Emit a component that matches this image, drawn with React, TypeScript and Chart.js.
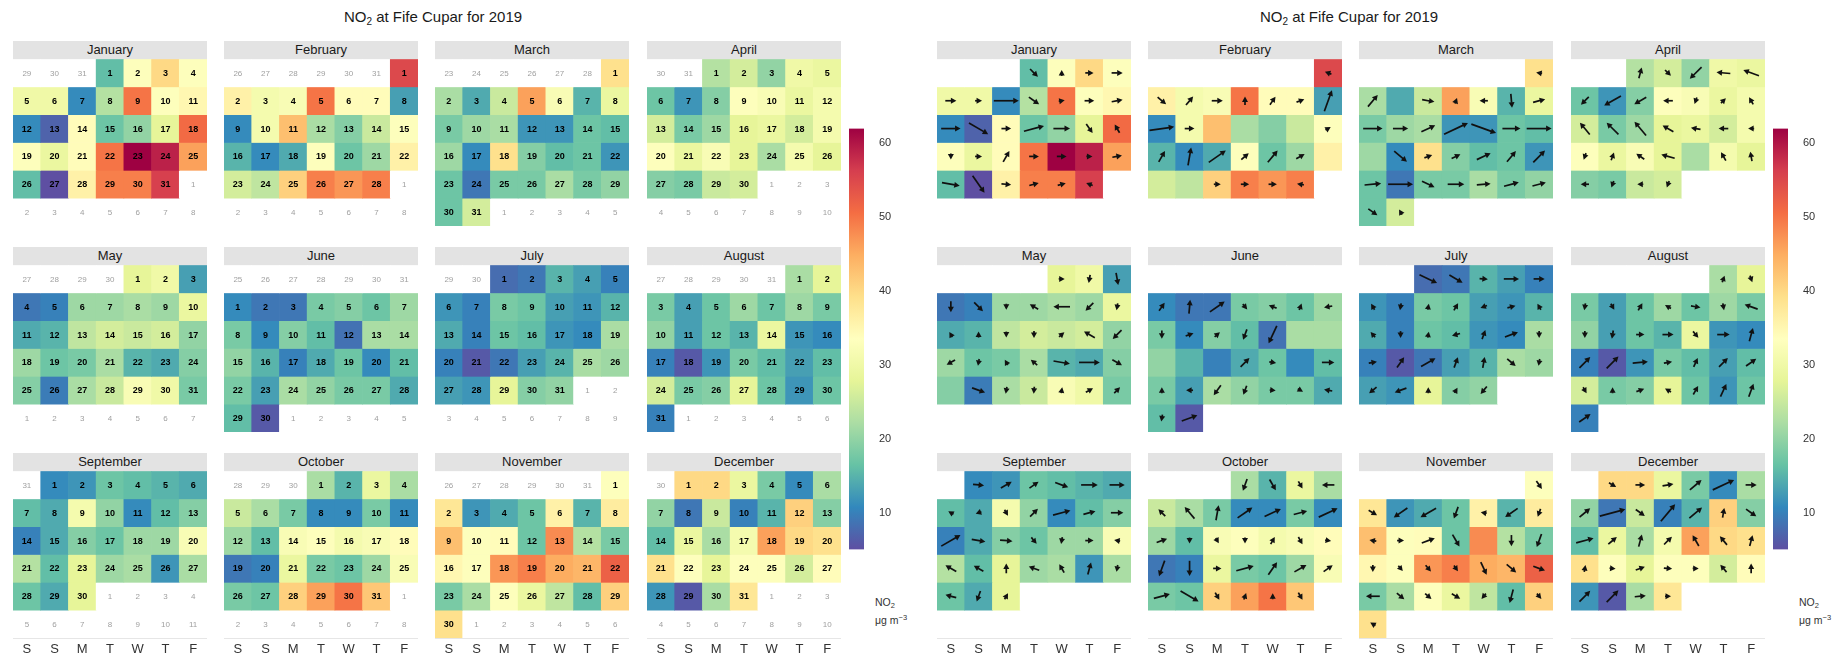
import React, { useEffect, useRef } from "react";
import { Chart, registerables } from "chart.js";

Chart.register(...registerables);

// ---------------------------------------------------------------------------
// Data: daily mean NO2 (µg m-3), wind direction (deg, from) and wind speed (m/s)
// Fife Cupar, 2019
// ---------------------------------------------------------------------------
const YEAR = 2019;
const SITE_TITLE = "at Fife Cupar for 2019";
const MONTH_NAMES = [
  "January", "February", "March", "April", "May", "June",
  "July", "August", "September", "October", "November", "December",
];
const WEEKDAY_LABELS = ["S", "S", "M", "T", "W", "T", "F"];
const COLOUR_TICKS = [10, 20, 30, 40, 50, 60];
const NO2_MIN = 5;
const NO2_MAX = 62;

const no2Jan = [16, 33, 40, 33, 30, 30, 11, 23, 50, 33, 35, 11, 7, 34, 17, 20, 28, 51, 33, 29, 34, 50, 62, 59, 46, 16, 5, 36, 49, 49, 56];
const no2Feb = [55, 36, 31, 32, 50, 34, 34, 13, 11, 31, 43, 22, 19, 25, 33, 15, 11, 14, 33, 17, 21, 36, 26, 24, 41, 49, 47, 49];
const no2Mar = [39, 22, 14, 25, 46, 32, 15, 29, 18, 21, 22, 12, 12, 17, 16, 21, 11, 39, 19, 16, 17, 12, 17, 9, 18, 18, 22, 18, 20, 17, 26];
const no2Apr = [23, 26, 20, 30, 29, 17, 12, 19, 33, 32, 29, 31, 26, 18, 21, 28, 29, 26, 31, 33, 29, 32, 28, 22, 31, 28, 19, 18, 25, 26];
const no2May = [28, 30, 13, 9, 10, 21, 21, 22, 21, 29, 14, 15, 24, 26, 25, 26, 20, 21, 17, 18, 22, 15, 14, 19, 19, 9.5, 22, 25, 32, 30, 18];
const no2Jun = [11, 9, 9, 18, 19, 17, 21, 18, 11, 19, 16, 8.5, 22, 22, 20, 15, 10, 14, 17, 11, 16, 18, 13, 22, 20, 18, 18, 14, 16, 6];
const no2Jul = [8, 9, 15, 13, 10, 12, 10, 18, 17, 13, 12, 15, 14, 10, 17, 16, 12, 11, 22, 10, 6, 9, 13, 15, 22, 21, 13, 12, 28, 19, 20];
const no2Aug = [22, 28, 18, 13, 17, 21, 17, 21, 18, 20, 13, 17, 15, 29, 12, 11, 10, 6, 12, 18, 16, 13, 16, 26, 18, 19, 28, 17, 12, 17, 10];
const no2Sep = [11, 12, 17, 16, 15, 14, 16, 14, 31, 20, 11, 16, 19, 10, 14, 19, 17, 21, 21, 32, 23, 16, 28, 21, 22, 12, 22, 17, 14, 28];
const no2Oct = [22, 15, 29, 22, 25, 22, 18, 11, 11, 18, 11, 21, 16, 32, 33, 31, 32, 34, 9, 10, 29, 18, 17, 21, 32, 18, 17, 41, 46, 50, 42];
const no2Nov = [33, 38, 12, 14, 17, 36, 15, 37, 43, 33, 34, 17, 48, 23, 18, 35, 33, 47, 49, 45, 44, 52, 18, 22, 33, 29, 24, 16, 41, 39];
const no2Dec = [40, 40, 29, 18, 11, 22, 20, 9, 25, 10, 15, 41, 19, 16, 29, 22, 31, 46, 40, 39, 39, 33, 28, 33, 33, 26, 34, 12, 6, 22, 38];

const wdJan = [315, 180, 270, 270, 270, 270, 270, 305, 260, 270, 260, 270, 300, 270, 255, 270, 325, 150, 0, 270, 210, 270, 270, 270, 260, 280, 325, 275, 255, 255, 110];
const wsJan = [4.8, 1.8, 3.6, 4.8, 4.8, 3.0, 10.8, 5.4, 2.4, 4.2, 4.8, 8.4, 9.6, 4.2, 9.0, 7.2, 4.8, 4.2, 2.4, 3.0, 5.4, 4.2, 4.2, 2.4, 4.2, 7.8, 9.0, 4.2, 4.2, 3.6, 3.0];
const wdFeb = [110, 310, 220, 270, 180, 215, 250, 200, 262, 270, null, null, null, null, 240, 210, 190, 235, 230, 220, 240, null, null, null, 270, 270, 270, 100];
const wsFeb = [3.0, 4.8, 4.8, 4.8, 3.6, 4.2, 3.6, 9.6, 10.8, 4.2, null, null, null, null, 2.4, 5.4, 7.8, 9.0, 4.2, 6.6, 4.2, null, null, null, 3.0, 3.6, 3.6, 3.0];
const wdMar = [100, 220, null, 280, 200, 90, 355, 255, 270, 270, 245, 245, 290, 270, 270, null, 310, 250, 245, 245, 220, 225, 265, 270, 295, 270, 265, 255, 255, 305, 150];
const wsMar = [2.4, 6.6, null, 5.4, 2.4, 3.6, 6.0, 5.4, 8.4, 6.6, 6.6, 11.4, 11.4, 7.8, 10.8, null, 7.2, 3.6, 4.2, 6.6, 6.0, 7.2, 7.2, 10.8, 6.0, 7.2, 6.0, 6.6, 6.0, 4.8, 2.4];
const wdApr = [195, 315, 45, 95, 110, 45, 60, 60, 90, 20, 225, 150, 140, 135, 140, 120, 100, 90, 90, 20, 200, 125, 105, null, 150, 170, 90, 20, 90, 20];
const wsApr = [4.8, 3.6, 7.2, 6.0, 7.2, 4.8, 8.4, 6.0, 4.2, 3.0, 3.0, 3.6, 6.6, 7.2, 7.8, 5.4, 4.2, 4.2, 2.4, 3.0, 3.6, 4.2, 6.0, null, 4.2, 4.2, 3.6, 3.0, 2.4, 3.0];
const wdMay = [270, 10, 350, 0, 315, 0, 120, 90, 45, 10, 150, 180, 0, 0, 230, 120, 45, 60, 10, 150, 130, 280, 270, 300, null, 290, 10, 5, 190, 240, 225];
const wsMay = [2.4, 3.6, 5.4, 4.8, 5.4, 2.4, 4.2, 7.2, 4.8, 3.0, 2.4, 2.4, 2.4, 3.0, 3.0, 5.4, 5.4, 4.2, 3.0, 2.4, 3.6, 7.2, 9.0, 4.8, null, 6.0, 3.0, 3.0, 2.4, 3.6, 3.6];
const wdJun = [215, 185, 235, 320, 110, 200, 80, 0, 250, 230, 20, 25, null, null, null, null, null, 225, 280, null, 270, 180, 90, 35, 20, 275, 300, 100, 10, 250];
const wsJun = [4.2, 6.0, 7.8, 3.0, 3.6, 3.0, 3.6, 3.6, 3.6, 3.0, 4.8, 8.4, null, null, null, null, null, 5.4, 3.0, null, 5.4, 2.4, 3.0, 5.4, 4.2, 2.4, 2.4, 3.6, 3.0, 7.2];
const wdJul = [295, 300, 275, 270, 270, 150, 10, 190, 210, 70, 255, 150, 140, 0, 190, 75, 200, 250, 0, 260, 215, 240, 200, 190, 310, 10, 50, 70, 180, 210, 40];
const wsJul = [8.4, 6.6, 3.6, 6.6, 4.8, 3.0, 3.0, 2.4, 3.6, 3.0, 3.6, 3.0, 3.0, 3.0, 2.4, 3.6, 4.2, 6.0, 3.0, 3.6, 5.4, 7.2, 4.8, 4.8, 4.8, 3.0, 4.2, 5.4, 2.4, 2.4, 4.2];
const wdAug = [200, 340, 10, 330, 210, 120, 280, 350, 110, 0, 10, 270, 270, 320, 270, 195, 225, 225, 265, 260, 205, 225, 235, 330, 180, 250, 120, 210, 205, 200, 235];
const wsAug = [3.0, 3.0, 3.0, 3.0, 3.6, 3.0, 4.2, 3.0, 6.0, 3.0, 3.6, 3.6, 4.8, 3.6, 5.4, 6.0, 6.6, 7.2, 6.6, 3.6, 4.2, 5.4, 5.4, 3.0, 2.4, 3.6, 3.0, 4.2, 6.0, 6.0, 6.0];
const wdSep = [275, 240, 235, 290, 270, 270, 120, 70, 330, 225, 255, 255, 270, 240, 280, 275, 320, 10, 270, 100, 120, 120, 180, 110, 150, 195, 10, 105, 20, 210];
const wsSep = [4.8, 5.4, 4.8, 6.0, 7.2, 6.6, 2.4, 2.4, 3.0, 4.8, 7.8, 5.4, 5.4, 9.6, 6.0, 5.4, 3.6, 3.0, 3.6, 2.4, 5.4, 4.8, 4.2, 4.8, 4.2, 5.4, 3.0, 4.8, 4.8, 3.0];
const wdOct = [20, 330, 330, 90, 135, 140, 190, 235, 245, 255, 245, 250, 0, 330, 0, 210, 330, 280, 20, 0, 270, 255, 215, 240, 235, 255, 300, 330, 200, 180, 330];
const wsOct = [5.4, 5.4, 3.6, 5.4, 4.2, 6.6, 6.6, 7.8, 7.8, 6.0, 9.0, 4.8, 2.4, 2.4, 2.4, 3.6, 3.6, 2.4, 7.2, 6.6, 3.6, 7.8, 6.6, 6.0, 4.8, 7.2, 9.0, 3.6, 3.0, 2.4, 3.6];
const wdNov = [325, 300, 55, 60, 20, 100, 55, 20, 100, 270, 250, 330, null, 0, 20, 0, 320, 320, 325, 335, 310, 290, 90, 310, 310, 300, 40, 15, 320, 120];
const wsNov = [4.2, 4.2, 7.2, 7.8, 5.4, 2.4, 6.6, 3.6, 3.0, 3.0, 6.0, 6.0, null, 4.8, 6.0, 3.0, 3.0, 3.6, 3.0, 6.0, 5.4, 5.4, 6.0, 4.2, 3.6, 4.2, 3.0, 6.0, 3.0, 2.4];
const wdDec = [300, 270, 260, 230, 245, 270, 230, 255, 305, 220, 230, 190, 305, 255, 230, 195, 225, 150, 140, 195, 190, 275, 250, 275, 270, 140, 180, 225, 225, 265, 270];
const wsDec = [3.6, 4.2, 4.8, 6.6, 10.2, 4.8, 6.0, 11.4, 4.8, 9.6, 7.2, 4.2, 5.4, 7.8, 4.8, 5.4, 4.8, 5.4, 4.8, 4.8, 3.0, 2.4, 4.2, 3.6, 2.4, 4.2, 4.2, 6.6, 7.2, 4.8, 2.4];

const NO2_BY_MONTH = [no2Jan, no2Feb, no2Mar, no2Apr, no2May, no2Jun, no2Jul, no2Aug, no2Sep, no2Oct, no2Nov, no2Dec];
const WD_BY_MONTH = [wdJan, wdFeb, wdMar, wdApr, wdMay, wdJun, wdJul, wdAug, wdSep, wdOct, wdNov, wdDec];
const WS_BY_MONTH = [wsJan, wsFeb, wsMar, wsApr, wsMay, wsJun, wsJul, wsAug, wsSep, wsOct, wsNov, wsDec];

// ---------------------------------------------------------------------------
// Styling
// ---------------------------------------------------------------------------
const FONT = '"Liberation Sans", Arial, Helvetica, sans-serif';
const SPECTRAL = [
  "#5E4FA2", "#3288BD", "#66C2A5", "#ABDDA4", "#E6F598", "#FFFFBF",
  "#FEE08B", "#FDAE61", "#F46D43", "#D53E4F", "#9E0142",
];
const GRID_COLOUR = "#e6e6e6";
const STRIP_COLOUR = "#e3e3e3";
const PANEL_W = 194;
const STRIP_H = 18;
const GRID_H = 167;
const WEEKDAY_H = 22;
const PANEL_X = [13, 224, 435, 647];
const PANEL_Y = [41, 247, 453];
const SIDE_OFFSET = [0, 924];
const TITLE_SHIFT = [6, -2];
const KEY_TOP = 115;
const KEY_H = 448;
const WS_PER_CELL = 12; // wind speed that spans one full cell width

function hexToRgb(h: string) {
  const n = parseInt(h.slice(1), 16);
  return [(n >> 16) & 255, (n >> 8) & 255, n & 255];
}
const SPECTRAL_RGB = SPECTRAL.map(hexToRgb);

function no2Colour(v: number) {
  let t = (v - NO2_MIN) / (NO2_MAX - NO2_MIN);
  t = Math.max(0, Math.min(1, t));
  const pos = t * (SPECTRAL_RGB.length - 1);
  const i = Math.min(Math.floor(pos), SPECTRAL_RGB.length - 2);
  const f = pos - i;
  const a = SPECTRAL_RGB[i];
  const b = SPECTRAL_RGB[i + 1];
  const c = a.map((x, k) => Math.round(x + (b[k] - x) * f));
  return `rgb(${c[0]},${c[1]},${c[2]})`;
}

type Cell = { inMonth: boolean; day: number };

// 6 x 7 calendar grid, weeks starting on Saturday
function monthCells(month: number): Cell[] {
  const firstDow = new Date(YEAR, month, 1).getDay();
  const col = (firstDow + 1) % 7;
  const lead = col === 0 ? 7 : col;
  const days = new Date(YEAR, month + 1, 0).getDate();
  const prevDays = new Date(YEAR, month, 0).getDate();
  const cells: Cell[] = [];
  for (let i = 0; i < 42; i++) {
    const d = i - lead + 1;
    if (d < 1) cells.push({ inMonth: false, day: prevDays + d });
    else if (d > days) cells.push({ inMonth: false, day: d - days });
    else cells.push({ inMonth: true, day: d });
  }
  return cells;
}

function drawArrow(ctx: CanvasRenderingContext2D, cx: number, cy: number, wd: number, ws: number, cellW: number) {
  const toward = ((wd + 180) * Math.PI) / 180;
  const ux = Math.sin(toward);
  const uy = -Math.cos(toward);
  const HEAD = 5.5;
  const HALF = 3;
  const len = Math.max((ws / WS_PER_CELL) * cellW, HEAD + 0.5);
  const half = len / 2;
  const tipX = cx + ux * half;
  const tipY = cy + uy * half;
  const tailX = cx - ux * half;
  const tailY = cy - uy * half;
  const baseX = tipX - ux * HEAD;
  const baseY = tipY - uy * HEAD;
  ctx.strokeStyle = "#111";
  ctx.fillStyle = "#111";
  ctx.lineWidth = 1.7;
  ctx.beginPath();
  ctx.moveTo(tailX, tailY);
  ctx.lineTo(baseX + ux * 0.5, baseY + uy * 0.5);
  ctx.stroke();
  ctx.beginPath();
  ctx.moveTo(tipX, tipY);
  ctx.lineTo(baseX - uy * HALF, baseY + ux * HALF);
  ctx.lineTo(baseX + uy * HALF, baseY - ux * HALF);
  ctx.closePath();
  ctx.fill();
}

function cellMarksPlugin(month: number, mode: "value" | "wind") {
  return {
    id: "cellMarks",
    afterDraw(chart: any) {
      const { ctx, scales, chartArea } = chart;
      const x = scales.x;
      const y = scales.y;
      const cells = monthCells(month);
      const cellW = x.getPixelForValue(1) - x.getPixelForValue(0);
      ctx.save();
      ctx.beginPath();
      ctx.rect(chartArea.left, chartArea.top, chartArea.right - chartArea.left, chartArea.bottom - chartArea.top);
      ctx.clip();
      ctx.textAlign = "center";
      ctx.textBaseline = "middle";
      cells.forEach((cell, i) => {
        const r = Math.floor(i / 7);
        const c = i % 7;
        const cx = x.getPixelForValue(c);
        const cy = y.getPixelForValue(r + 0.5);
        if (mode === "value") {
          if (cell.inMonth) {
            ctx.font = `bold 9px ${FONT}`;
            ctx.fillStyle = "#000";
          } else {
            ctx.font = `8px ${FONT}`;
            ctx.fillStyle = "#a0a0a0";
          }
          ctx.fillText(String(cell.day), cx, cy + 0.5);
        } else if (cell.inMonth) {
          const wd = WD_BY_MONTH[month][cell.day - 1];
          const ws = WS_BY_MONTH[month][cell.day - 1];
          if (wd !== null && ws !== null) drawArrow(ctx, cx, cy, wd, ws, cellW);
        }
      });
      ctx.restore();
    },
  };
}

function MonthChart(props: { month: number; mode: "value" | "wind"; left: number; top: number; showWeekdays: boolean }) {
  const { month, mode, left, top, showWeekdays } = props;
  const ref = useRef<HTMLCanvasElement>(null);
  const height = GRID_H + (showWeekdays ? WEEKDAY_H : 0);

  useEffect(() => {
    const canvas = ref.current;
    if (!canvas) return;
    const cells = monthCells(month);
    const values = NO2_BY_MONTH[month];
    const datasets = [0, 1, 2, 3, 4, 5].map((r) => ({
      label: `week ${r + 1}`,
      data: WEEKDAY_LABELS.map(() => [r, r + 1]),
      backgroundColor: WEEKDAY_LABELS.map((_, c) => {
        const cell = cells[r * 7 + c];
        return cell.inMonth ? no2Colour(values[cell.day - 1]) : "#ffffff";
      }),
      borderWidth: 0,
      grouped: false,
      barPercentage: 1,
      categoryPercentage: 1,
    }));

    const chart = new Chart(canvas, {
      type: "bar",
      data: { labels: WEEKDAY_LABELS, datasets: datasets as any },
      options: {
        animation: false,
        responsive: false,
        events: [],
        layout: { padding: 0 },
        plugins: { legend: { display: false }, tooltip: { enabled: false }, title: { display: false } },
        scales: {
          x: {
            type: "category",
            offset: true,
            z: 1,
            grid: { offset: true, color: GRID_COLOUR, lineWidth: 1, drawTicks: false },
            border: { display: false },
            ticks: {
              display: showWeekdays,
              color: "#333",
              font: { family: FONT, size: 13 },
              padding: 4,
              maxRotation: 0,
              autoSkip: false,
            },
            afterFit: (s: any) => {
              s.height = showWeekdays ? WEEKDAY_H : 0;
            },
          },
          y: {
            type: "linear",
            min: 0,
            max: 6,
            reverse: true,
            z: 1,
            grid: { color: GRID_COLOUR, lineWidth: 1, drawTicks: false },
            border: { display: false },
            ticks: { display: false, stepSize: 1 },
            afterFit: (s: any) => {
              s.width = 0;
            },
          },
        },
      } as any,
      plugins: [cellMarksPlugin(month, mode)],
    });
    return () => chart.destroy();
  }, [month, mode, showWeekdays]);

  return (
    <canvas
      ref={ref}
      width={PANEL_W}
      height={height}
      style={{ position: "absolute", left, top, width: PANEL_W, height }}
    />
  );
}

function ColourKey(props: { left: number; top: number; height: number }) {
  const { left, top, height } = props;
  const ref = useRef<HTMLCanvasElement>(null);
  const width = 60;

  useEffect(() => {
    const canvas = ref.current;
    if (!canvas) return;
    const chart = new Chart(canvas, {
      type: "bar",
      data: {
        labels: ["NO2"],
        datasets: [
          {
            data: [[NO2_MIN, NO2_MAX]],
            barPercentage: 1,
            categoryPercentage: 1,
            borderWidth: 0,
            backgroundColor: (c: any) => {
              const ch = c.chart;
              if (!ch.chartArea) return SPECTRAL[0];
              const ys = ch.scales.y;
              const g = ch.ctx.createLinearGradient(0, ys.getPixelForValue(NO2_MIN), 0, ys.getPixelForValue(NO2_MAX));
              SPECTRAL.forEach((col, i) => g.addColorStop(i / (SPECTRAL.length - 1), col));
              return g;
            },
          } as any,
        ],
      },
      options: {
        animation: false,
        responsive: false,
        events: [],
        layout: { padding: 0 },
        plugins: { legend: { display: false }, tooltip: { enabled: false } },
        scales: {
          x: { display: false },
          y: {
            position: "right",
            min: NO2_MIN,
            max: NO2_MAX,
            grid: { display: false },
            border: { display: false },
            ticks: { color: "#333", font: { family: FONT, size: 11 }, padding: 7 },
            afterBuildTicks: (axis: any) => {
              axis.ticks = COLOUR_TICKS.map((v) => ({ value: v }));
            },
            afterFit: (s: any) => {
              s.width = width - 15;
            },
          },
        },
      } as any,
    });
    return () => chart.destroy();
  }, []);

  return (
    <canvas
      ref={ref}
      width={width}
      height={height}
      style={{ position: "absolute", left, top, width, height }}
    />
  );
}

function CalendarSide(props: { side: number; mode: "value" | "wind" }) {
  const { side, mode } = props;
  const offset = SIDE_OFFSET[side];
  const panels = [] as React.ReactNode[];
  for (let m = 0; m < 12; m++) {
    const r = Math.floor(m / 4);
    const c = m % 4;
    const left = offset + PANEL_X[c];
    const top = PANEL_Y[r];
    panels.push(
      <div
        key={`strip-${m}`}
        style={{
          position: "absolute",
          left,
          top,
          width: PANEL_W,
          height: STRIP_H,
          lineHeight: `${STRIP_H}px`,
          background: STRIP_COLOUR,
          textAlign: "center",
          fontSize: 13,
          color: "#1a1a1a",
        }}
      >
        {MONTH_NAMES[m]}
      </div>
    );
    panels.push(
      <MonthChart
        key={`chart-${m}`}
        month={m}
        mode={mode}
        left={left}
        top={top + STRIP_H}
        showWeekdays={r === 2}
      />
    );
  }
  const gridLeft = offset + PANEL_X[0] + TITLE_SHIFT[side];
  const gridRight = offset + PANEL_X[3] + PANEL_W + TITLE_SHIFT[side];
  return (
    <>
      <div
        style={{
          position: "absolute",
          left: gridLeft,
          top: 6,
          width: gridRight - gridLeft,
          height: 22,
          lineHeight: "22px",
          textAlign: "center",
          fontSize: 15,
          color: "#1a1a1a",
        }}
      >
        NO<span style={{ fontSize: 10, position: "relative", top: 3 }}>2</span> {SITE_TITLE}
      </div>
      {panels}
      <ColourKey left={offset + 849} top={KEY_TOP} height={KEY_H} />
      <div style={{ position: "absolute", left: offset + 875, top: 595, fontSize: 10.5, color: "#333", lineHeight: "14px" }}>
        NO<span style={{ fontSize: 7.5, position: "relative", top: 2 }}>2</span>
      </div>
      <div style={{ position: "absolute", left: offset + 875, top: 613, fontSize: 10.5, color: "#333", lineHeight: "14px" }}>
        μg m<span style={{ fontSize: 7.5, position: "relative", top: -4 }}>−3</span>
      </div>
    </>
  );
}

export default function App() {
  return (
    <div
      style={{
        position: "absolute",
        left: 0,
        top: 0,
        width: 1845,
        height: 659,
        overflow: "hidden",
        background: "#ffffff",
        fontFamily: FONT,
      }}
    >
      <CalendarSide side={0} mode="value" />
      <CalendarSide side={1} mode="wind" />
    </div>
  );
}
